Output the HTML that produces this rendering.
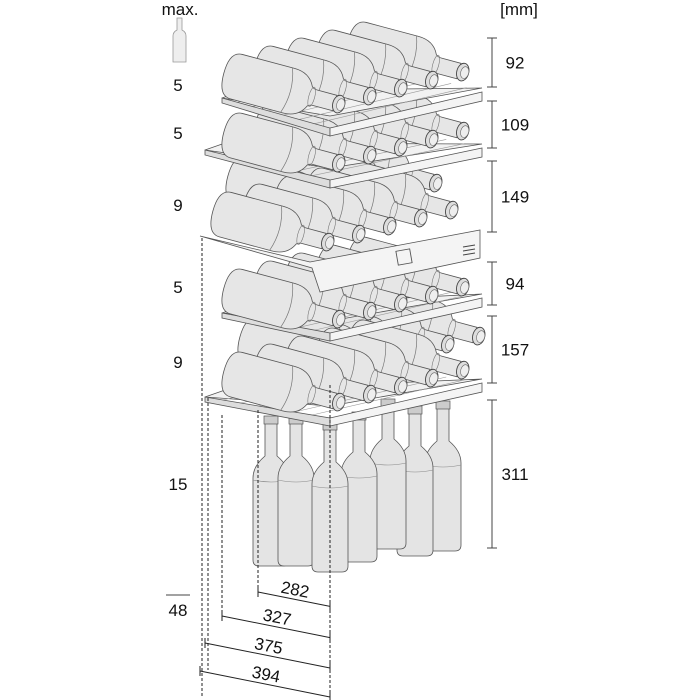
<!DOCTYPE html>
<html><head><meta charset="utf-8"><style>
html,body{margin:0;padding:0;background:#fff;}
svg{display:block;font-family:"Liberation Sans",sans-serif;}
</style></head><body>
<svg id="s" width="700" height="700" viewBox="0 0 700 700" xmlns="http://www.w3.org/2000/svg">
<defs>
<g id="hb">
 <path d="M-40,-23 L14,-23 Q30,-23 36,-10 Q38,-8 42,-8 L62,-8 L62,8 L42,8 Q38,8 36,10 Q30,23 14,23 L-40,23 Q-53,23 -53,0 Q-53,-23 -40,-23 Z" fill="#e6e6e6" stroke="#555" stroke-width="0.8"/>
 <path d="M12,-23 Q20,0 12,23" fill="none" stroke="#777" stroke-width="0.7"/>
 <ellipse cx="38" cy="0" rx="3" ry="10" fill="none" stroke="#777" stroke-width="0.6"/>
 <ellipse cx="66" cy="0" rx="6" ry="9" fill="#ddd" stroke="#444" stroke-width="0.9"/>
 <ellipse cx="68" cy="0" rx="4" ry="6" fill="#eee" stroke="#666" stroke-width="0.6"/>
</g>
<g id="vb">
 <path d="M-6,0 L6,0 L6,36 Q18,46 18,58 L18,140 Q18,146 12,146 L-12,146 Q-18,146 -18,140 L-18,58 Q-18,46 -6,36 Z" fill="#e4e4e4" stroke="#555" stroke-width="0.8"/>
 <path d="M-18,60 Q0,64 18,60" fill="none" stroke="#888" stroke-width="0.6"/>
 <rect x="-7" y="-4" width="14" height="8" fill="#ccc" stroke="#555" stroke-width="0.7"/>
</g>
</defs>
<g id="content" font-size="17" fill="#111"></g>
</svg>
<script>
var ns="http://www.w3.org/2000/svg",C=document.getElementById("content");
function el(t,a,p){var e=document.createElementNS(ns,t);for(var k in a)e.setAttribute(k,a[k]);(p||C).appendChild(e);return e;}
function hb(cx,cy){el("use",{href:"#hb",transform:"translate("+(cx-64)+","+(cy-17)+") rotate(15)"});}
function row(cx,cy,n){for(var i=n-1;i>=0;i--)hb(cx+31*i,cy-8*i);}
function shelf(lx,ly,cx,cy,rx,ry){
 el("path",{d:"M"+lx+","+ly+" L"+(lx+20)+","+(ly-7)+" L"+rx+","+(ry-4)+" L"+cx+","+(cy-12)+" Z",fill:"#f2f2f2",stroke:"#555","stroke-width":0.8});
 for(var i=1;i<7;i++){var t=i/7;el("line",{x1:lx+(cx-lx)*t,y1:ly+(cy-ly)*t,x2:lx+(cx-lx)*t+(rx-cx),y2:ly+(cy-ly)*t+(ry-cy),stroke:"#999","stroke-width":0.6});}
 el("path",{d:"M"+lx+","+ly+" L"+cx+","+cy+" L"+cx+","+(cy+8)+" L"+lx+","+(ly+5)+" Z",fill:"#ddd",stroke:"#555","stroke-width":0.8});
 el("path",{d:"M"+cx+","+cy+" L"+rx+","+ry+" L"+rx+","+(ry+9)+" L"+cx+","+(cy+8)+" Z",fill:"#f4f4f4",stroke:"#555","stroke-width":0.8});
}
var vb=[[443,405],[415,410],[388,403],[271,420],[296,420],[359,416],[330,426]];
vb.forEach(function(b){el("use",{href:"#vb",transform:"translate("+b[0]+","+b[1]+")"});});
shelf(205,397,330,418,482,383);
row(355,368,5); row(339,402,5);
shelf(222,313,330,333,482,298);
row(339,319,5);
el("path",{d:"M200,236 L310,262 L480,230 L480,258 L320,292 L312,268 Z",fill:"#f4f4f4",stroke:"#555","stroke-width":0.8});
el("rect",{x:397,y:250,width:14,height:14,fill:"none",stroke:"#555","stroke-width":0.9,transform:"rotate(-10 404 257)"});
el("path",{d:"M463,247 l12,-2 M463,251 l12,-2 M463,255 l12,-2",stroke:"#444","stroke-width":1});
row(343,207,4); row(328,242,5);
shelf(205,150,330,180,482,148);
row(339,163,5);
shelf(222,98,330,128,482,92);
row(339,104,5);
[[202,238,697],[208,398,670],[222,415,620],[258,410,592],[330,385,700]].forEach(function(d){el("line",{x1:d[0],y1:d[1],x2:d[0],y2:d[2],stroke:"#222","stroke-width":1,"stroke-dasharray":"3,2"});});
[[258,592,"282"],[222,616,"327"],[205,643,"375"],[200,671,"394"]].forEach(function(d){
 el("line",{x1:d[0],y1:d[1],x2:330,y2:d[1]+(330-d[0])*0.2,stroke:"#222","stroke-width":1});
 el("line",{x1:d[0],y1:d[1]-5,x2:d[0],y2:d[1]+5,stroke:"#222","stroke-width":1});
 el("line",{x1:330,y1:d[1]+(330-d[0])*0.2-5,x2:330,y2:d[1]+(330-d[0])*0.2+5,stroke:"#222","stroke-width":1});
 var mx=(d[0]+330)/2,my=d[1]+(330-d[0])*0.1-4;
 el("text",{x:mx,y:my,"text-anchor":"middle",transform:"rotate(11 "+mx+" "+my+")","font-size":17}).textContent=d[2];
});
[[38,87,"92"],[101,148,"109"],[161,232,"149"],[262,305,"94"],[316,383,"157"],[400,548,"311"]].forEach(function(d){
 el("line",{x1:492,y1:d[0],x2:492,y2:d[1],stroke:"#444","stroke-width":1});
 el("line",{x1:487,y1:d[0],x2:497,y2:d[0],stroke:"#444","stroke-width":1});
 el("line",{x1:487,y1:d[1],x2:497,y2:d[1],stroke:"#444","stroke-width":1});
 el("text",{x:515,y:(d[0]+d[1])/2+6,"text-anchor":"middle"}).textContent=d[2];
});
[[91,"5"],[139,"5"],[211,"9"],[293,"5"],[368,"9"],[490,"15"],[616,"48"]].forEach(function(d){el("text",{x:178,y:d[0],"text-anchor":"middle"}).textContent=d[1];});
el("line",{x1:166,y1:595,x2:190,y2:595,stroke:"#444","stroke-width":1});
el("text",{x:180,y:15,"text-anchor":"middle"}).textContent="max.";
el("text",{x:519,y:15,"text-anchor":"middle"}).textContent="[mm]";
el("path",{d:"M177,18 L182,18 L182,30 Q186,32 186,36 L186,62 L173,62 L173,36 Q173,32 177,30 Z",fill:"#eee",stroke:"#999","stroke-width":0.8});
</script>
</body></html>
